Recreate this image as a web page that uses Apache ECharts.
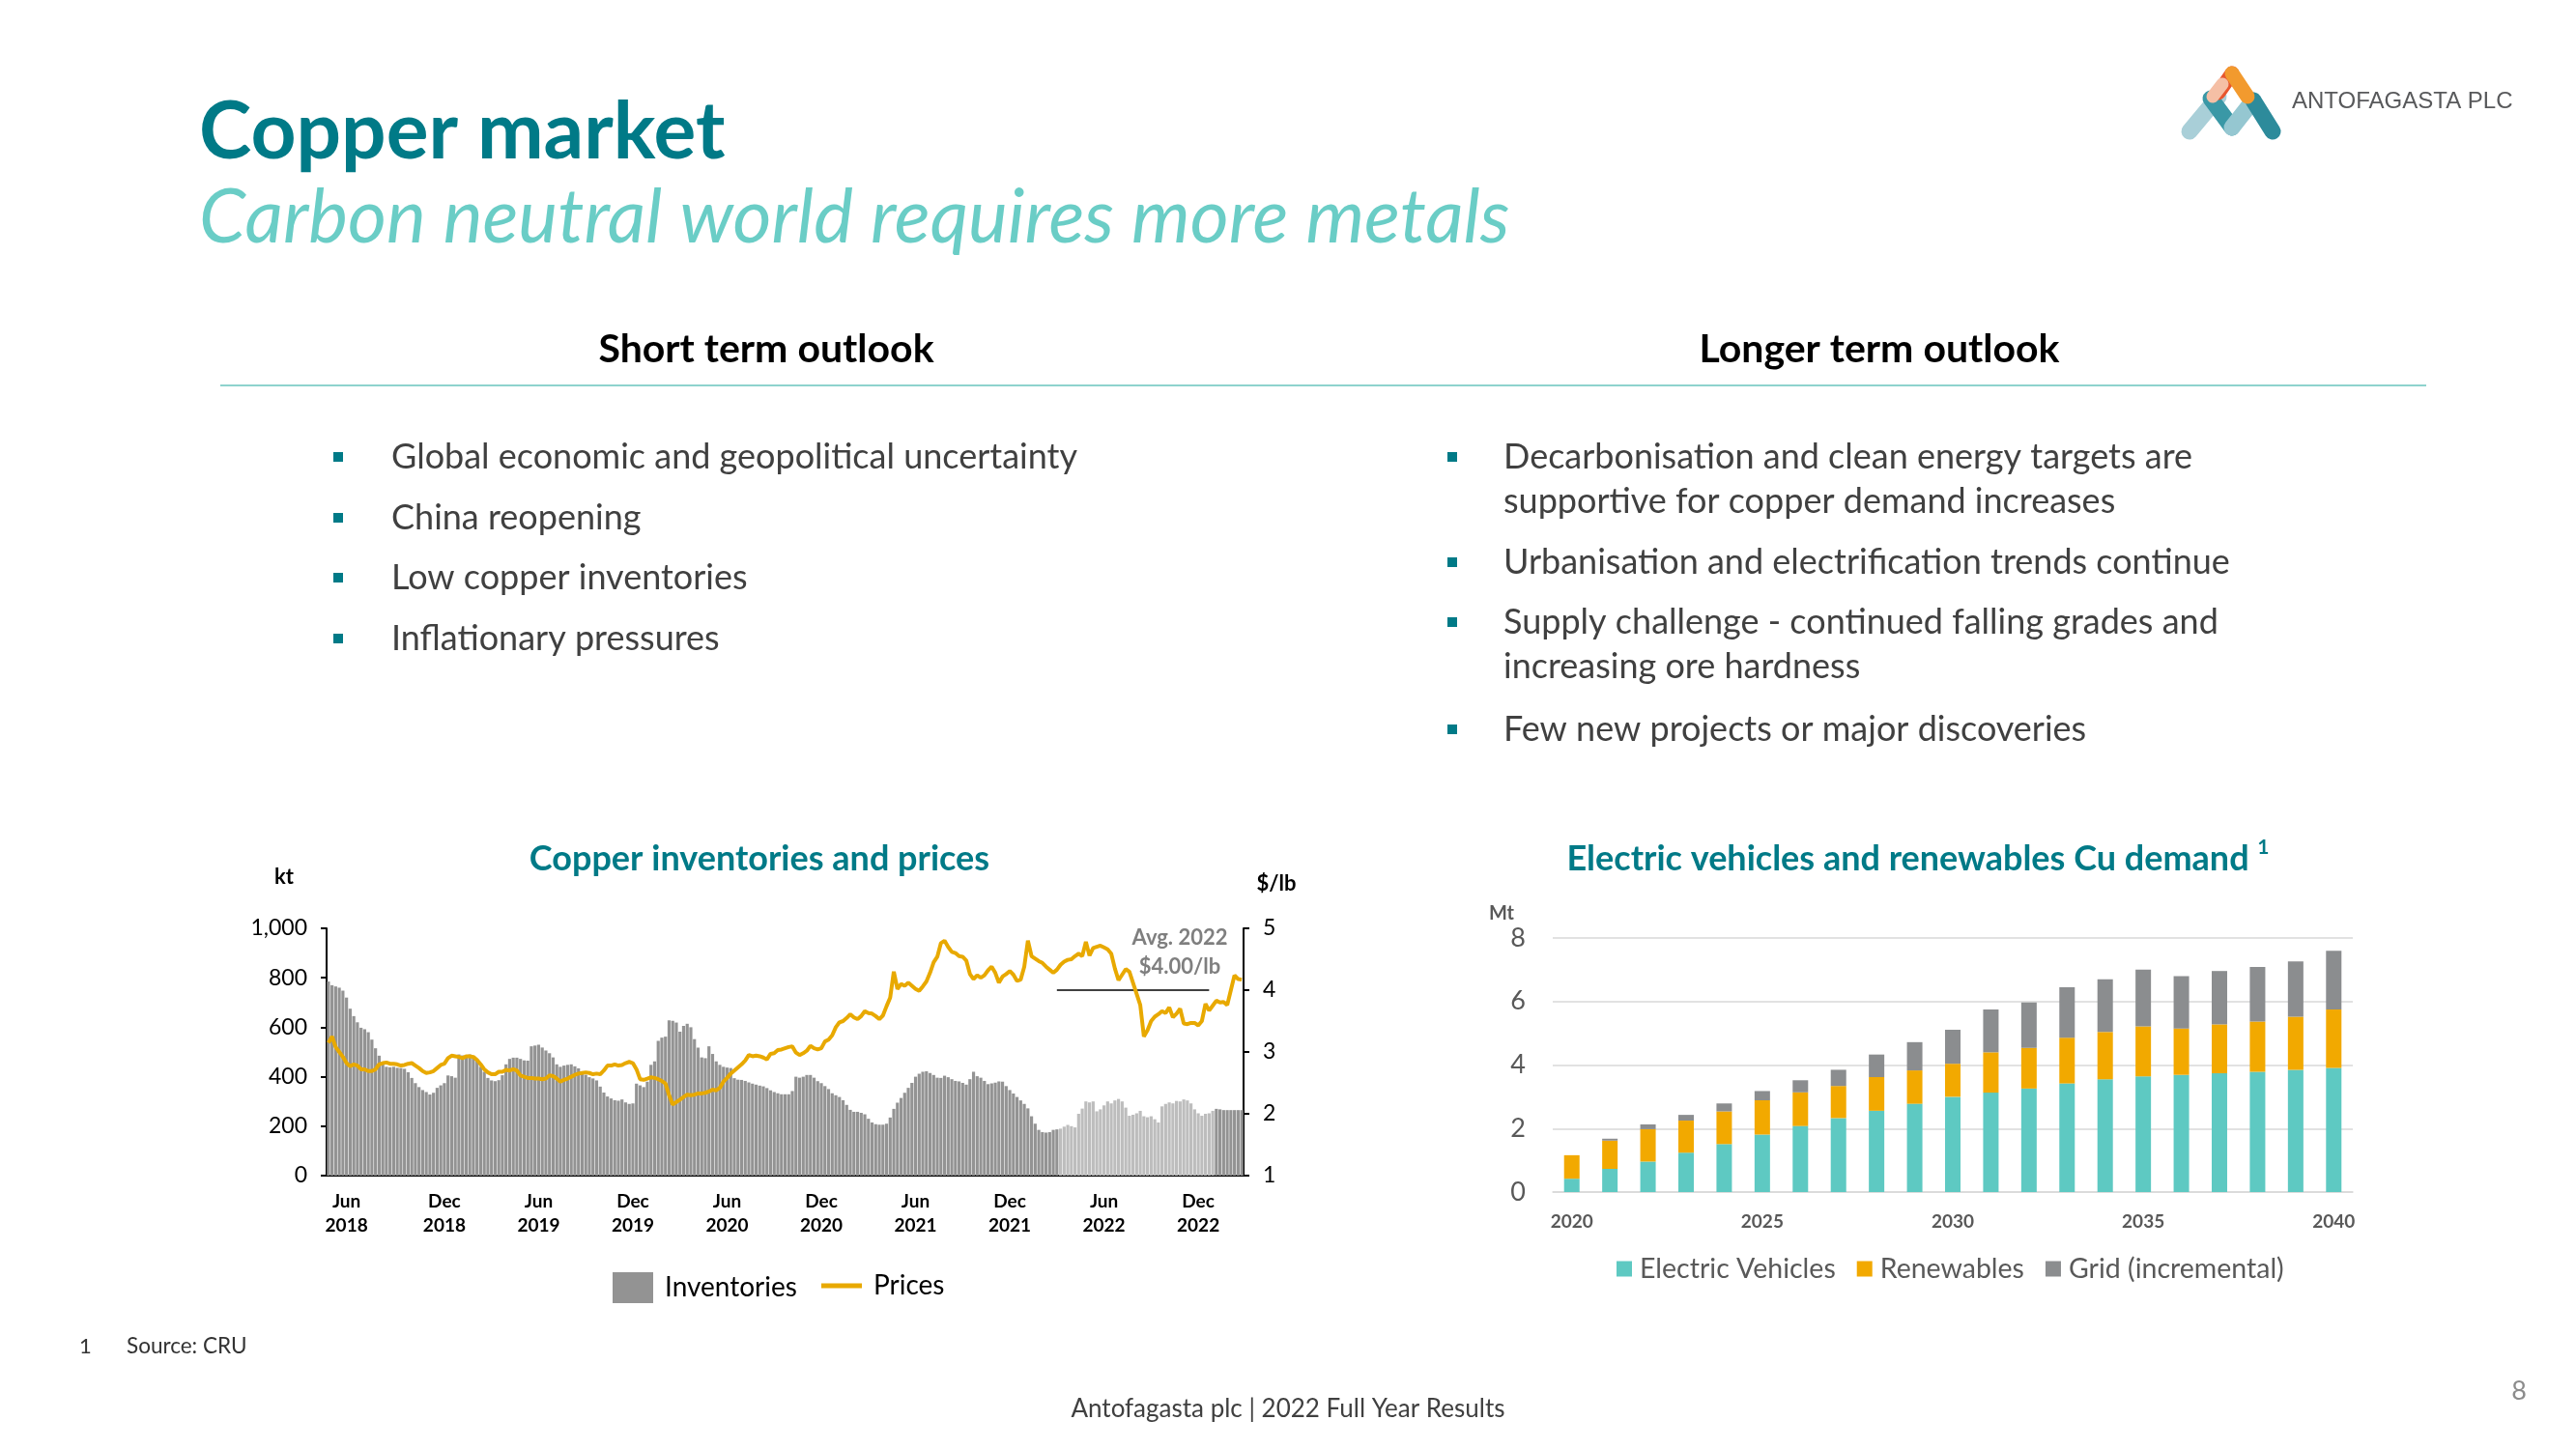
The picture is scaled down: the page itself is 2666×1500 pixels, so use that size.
<!DOCTYPE html>
<html><head><meta charset="utf-8">
<script src="https://cdn.jsdelivr.net/npm/echarts@6.0.0/dist/echarts.min.js"></script>
<style>html,body{margin:0;padding:0;background:#fff}#c{width:2666px;height:1500px}</style>
</head><body><div id="c"></div><script>
// ---------- DATA ----------
const weekStart = '2018-04-27'; // first weekly observation
const inventories = [
785,770,765,760,748,720,675,645,620,598,
592,580,550,515,485,450,440,438,440,436,
435,432,418,395,374,358,346,338,328,335,
355,365,374,405,402,396,490,486,484,490,
480,470,440,420,395,385,382,386,406,450,
472,477,477,472,466,465,523,526,529,518,
506,495,478,450,440,445,448,450,442,434,
422,408,398,393,385,360,336,320,312,305,
303,308,296,290,292,372,365,358,380,448,
462,545,558,562,628,626,619,582,605,614,
600,552,518,478,475,523,492,462,448,440,
437,435,394,388,387,383,377,372,368,364,
361,354,345,338,333,329,329,329,342,400,
396,400,407,407,396,382,374,362,350,333,
325,318,305,286,266,258,258,254,248,230,
215,208,206,206,210,235,270,295,314,335,
355,375,400,412,420,422,415,407,396,395,
404,398,390,383,381,375,368,390,420,402,
396,383,370,373,376,381,380,362,346,332,
318,304,290,272,240,210,185,176,174,176,
185,187,190,198,205,200,195,250,271,300,
296,300,260,268,284,300,292,304,310,300,
275,242,246,252,262,240,236,240,228,215,
280,290,296,292,302,300,308,304,292,268,
252,242,250,252,262,270,268,265,265,265,
265,265,265
];
const prices = [
3.15,3.25,3.08,3.00,2.92,2.82,2.77,2.80,2.78,2.72,
2.72,2.69,2.69,2.72,2.80,2.82,2.83,2.81,2.81,2.80,
2.78,2.79,2.81,2.82,2.78,2.74,2.69,2.66,2.67,2.69,
2.74,2.79,2.81,2.90,2.94,2.93,2.92,2.90,2.93,2.93,
2.92,2.87,2.80,2.72,2.67,2.64,2.64,2.68,2.68,2.71,
2.70,2.72,2.70,2.62,2.60,2.58,2.58,2.57,2.57,2.56,
2.57,2.62,2.61,2.57,2.52,2.55,2.57,2.60,2.63,2.65,
2.66,2.67,2.66,2.64,2.65,2.64,2.70,2.78,2.78,2.80,
2.78,2.79,2.82,2.84,2.82,2.72,2.56,2.55,2.57,2.59,
2.58,2.56,2.53,2.49,2.30,2.15,2.19,2.23,2.27,2.31,
2.30,2.31,2.33,2.33,2.34,2.36,2.39,2.38,2.42,2.52,
2.58,2.65,2.70,2.75,2.80,2.86,2.95,2.93,2.94,2.93,
2.91,2.88,2.97,2.98,3.03,3.04,3.06,3.08,3.09,2.99,
2.95,2.98,3.02,3.10,3.06,3.04,3.06,3.17,3.20,3.27,
3.40,3.48,3.50,3.55,3.61,3.56,3.53,3.58,3.66,3.63,
3.62,3.58,3.53,3.59,3.74,3.88,4.30,4.02,4.10,4.07,
4.12,4.07,4.02,3.99,4.06,4.14,4.28,4.45,4.54,4.76,
4.80,4.70,4.62,4.60,4.55,4.54,4.48,4.26,4.18,4.24,
4.20,4.24,4.32,4.38,4.28,4.12,4.22,4.26,4.31,4.25,
4.15,4.17,4.38,4.80,4.55,4.51,4.47,4.44,4.38,4.33,
4.28,4.33,4.41,4.46,4.49,4.50,4.55,4.59,4.55,4.78,
4.56,4.68,4.70,4.72,4.69,4.66,4.59,4.35,4.16,4.25,
4.34,4.30,4.12,3.94,3.76,3.25,3.35,3.50,3.57,3.61,
3.66,3.63,3.72,3.56,3.62,3.70,3.46,3.45,3.47,3.47,
3.43,3.50,3.78,3.67,3.75,3.83,3.80,3.81,3.76,4.00,
4.24,4.18,4.17
];
const lightRange = [202, 244];        // weeks drawn in lighter grey
const avgRange = [201, 243];          // span of the 2022 average line
const avgPrice = 4.00;
const avgLabels = ['Avg. 2022', '$4.00/lb'];
const invTicks = [0, 1000, 200];
const priceTicks = [1, 5, 1];

const years = ['2020','2021','2022','2023','2024','2025','2026','2027','2028','2029','2030',
               '2031','2032','2033','2034','2035','2036','2037','2038','2039','2040'];
const evDemand    = [0.42,0.73,0.96,1.24,1.51,1.81,2.08,2.33,2.56,2.78,3.00,3.13,3.26,3.42,3.55,3.64,3.69,3.74,3.79,3.85,3.91];
const renewDemand = [0.74,0.89,1.02,1.01,1.03,1.08,1.06,1.01,1.06,1.05,1.04,1.27,1.28,1.44,1.49,1.58,1.46,1.54,1.58,1.67,1.84];
const gridDemand  = [0.00,0.06,0.15,0.18,0.25,0.29,0.38,0.51,0.71,0.89,1.07,1.35,1.43,1.59,1.66,1.78,1.65,1.68,1.72,1.74,1.85];
const demandTicks = [0, 8, 2];

const leftBullets = ['Global economic and geopolitical uncertainty','China reopening','Low copper inventories','Inflationary pressures'];
const rightLines = [
  ['Decarbonisation and clean energy targets are', true],
  ['supportive for copper demand increases', false],
  ['Urbanisation and electrification trends continue', true],
  ['Supply challenge - continued falling grades and', true],
  ['increasing ore hardness', false],
  ['Few new projects or major discoveries', true]
];

// ---------- BUILD ----------
const DAY = 86400000;
const t0 = Date.parse(weekStart + 'T00:00:00Z');
const dates = inventories.map((_, i) => new Date(t0 + i * 7 * DAY).toISOString().slice(0, 10));
const MONTHS = {6: 'Jun', 12: 'Dec'};
function isHalfYear(v) {
  const m = +v.slice(5, 7), d = +v.slice(8, 10);
  return (m === 6 || m === 12) && d <= 7;
}

const F = 'Lato';
const TEAL = '#007A87';
const g = [];
function txt(x, y, text, font, fill, align) {
  g.push({type: 'text', x: x, y: y, silent: true,
    style: {text: text, font: font, fill: fill, textAlign: align || 'left', textVerticalAlign: 'middle'}});
}
// header
txt(206, 138, 'Copper market', 'bold 82px ' + F, TEAL);
txt(206, 226, 'Carbon neutral world requires more metals', 'italic 77px ' + F, '#6ACDC6');
txt(793, 362, 'Short term outlook', 'bold 41px ' + F, '#000', 'center');
txt(1945, 362, 'Longer term outlook', 'bold 41px ' + F, '#000', 'center');
g.push({type: 'line', silent: true, shape: {x1: 228, y1: 399, x2: 2511, y2: 399}, style: {stroke: '#8ED3CD', lineWidth: 2}});
// bullets
const leftY = [473, 536, 598, 661];
leftBullets.forEach((t, i) => {
  g.push({type: 'rect', silent: true, shape: {x: 345, y: leftY[i] - 5, width: 10, height: 10}, style: {fill: TEAL}});
  txt(405, leftY[i], t, '36px ' + F, '#404040');
});
const rightY = [473, 519, 582, 644, 690, 755];
rightLines.forEach((l, i) => {
  if (l[1]) g.push({type: 'rect', silent: true, shape: {x: 1498, y: rightY[i] - 5, width: 10, height: 10}, style: {fill: TEAL}});
  txt(1556, rightY[i], l[0], '36px ' + F, '#404040');
});
// chart titles & units
txt(786, 889, 'Copper inventories and prices', 'bold 36px ' + F, TEAL, 'center');
g.push({type: 'text', x: 1985, y: 889, silent: true, style: {
  text: '{a|Electric vehicles and renewables Cu demand }{b|1}', textAlign: 'center', textVerticalAlign: 'middle',
  rich: {a: {fontSize: 36, fontWeight: 'bold', fontFamily: F, fill: TEAL, lineHeight: 44},
         b: {fontSize: 21, fontWeight: 'bold', fontFamily: F, fill: TEAL, verticalAlign: 'top', lineHeight: 24}}}});
txt(294, 908, 'kt', 'bold 22px ' + F, '#000', 'center');
txt(1321, 915, '$/lb', 'bold 22px ' + F, '#000', 'center');
txt(1554, 946, 'Mt', 'bold 20px ' + F, '#595959', 'center');
txt(1221, 971, avgLabels[0], 'bold 22px ' + F, '#7F7F7F', 'center');
txt(1221, 1001, avgLabels[1], 'bold 22px ' + F, '#7F7F7F', 'center');
// footer
txt(82, 1394, '1', '22px ' + F, '#333');
txt(131, 1394, 'Source: CRU', '22.5px ' + F, '#333');
txt(1333, 1459, 'Antofagasta plc | 2022 Full Year Results', '26px ' + F, '#404040', 'center');
txt(2607, 1440, '8', '27px ' + F, '#8C8C8C', 'center');
// logo
function stroke(pts, color, w) {
  g.push({type: 'polyline', silent: true, shape: {points: pts}, style: {stroke: color, lineWidth: w, fill: null, lineCap: 'round', lineJoin: 'round'}});
}
stroke([[2266, 136], [2296, 100]], '#A9CFD8', 17);
stroke([[2288, 102], [2310, 132]], '#3A98A6', 17);
stroke([[2310, 132], [2332, 104]], '#95C7D1', 17);
stroke([[2332, 104], [2352, 136]], '#2D8B9B', 17);
stroke([[2296, 96], [2310, 76]], '#E8562E', 15);
stroke([[2310, 76], [2326, 100]], '#F29A2E', 15);
stroke([[2290, 100], [2300, 87]], '#F5BFA5', 13);
txt(2372, 105, 'ANTOFAGASTA PLC', '24px "Liberation Sans"', '#58595B');

const option = {
  animation: false,
  textStyle: {fontFamily: F},
  grid: [
    {left: 338, top: 961, width: 949, height: 256, outerBoundsMode: 'none'},
    {left: 1607, top: 971, width: 828, height: 263, outerBoundsMode: 'none'}
  ],
  xAxis: [
    {type: 'category', gridIndex: 0, data: dates, boundaryGap: true,
     axisLine: {show: true, onZero: false, lineStyle: {color: '#000', width: 2}},
     axisTick: {show: false}, splitLine: {show: false},
     axisLabel: {interval: (i, v) => isHalfYear(v), formatter: v => MONTHS[+v.slice(5, 7)] + '\n' + v.slice(0, 4),
                 fontWeight: 'bold', fontSize: 19, color: '#000', lineHeight: 25, margin: 14}},
    {type: 'category', gridIndex: 1, data: years, boundaryGap: true,
     axisLine: {show: true, lineStyle: {color: '#D9D9D9', width: 1.5}},
     axisTick: {show: false}, splitLine: {show: false},
     axisLabel: {interval: 4, fontWeight: 'bold', fontSize: 19, color: '#595959', margin: 21}}
  ],
  yAxis: [
    {type: 'value', gridIndex: 0, position: 'left', min: invTicks[0], max: invTicks[1], interval: invTicks[2],
     axisLine: {show: true, lineStyle: {color: '#000', width: 2}},
     axisTick: {show: true, length: 6, lineStyle: {color: '#000', width: 2}}, splitLine: {show: false},
     axisLabel: {fontSize: 23, color: '#000', margin: 20, formatter: v => v.toLocaleString('en-US')}},
    {type: 'value', gridIndex: 0, position: 'right', min: priceTicks[0], max: priceTicks[1], interval: priceTicks[2],
     axisLine: {show: true, lineStyle: {color: '#000', width: 2}},
     axisTick: {show: true, length: 6, lineStyle: {color: '#000', width: 2}}, splitLine: {show: false},
     axisLabel: {fontSize: 23, color: '#000', margin: 20}},
    {type: 'value', gridIndex: 1, min: demandTicks[0], max: demandTicks[1], interval: demandTicks[2],
     axisLine: {show: false}, axisTick: {show: false},
     splitLine: {show: true, lineStyle: {color: '#D9D9D9', width: 1.5}},
     axisLabel: {fontSize: 27, color: '#595959', margin: 28}}
  ],
  legend: [
    {data: ['Inventories'], left: 629, top: 1312, icon: 'rect', itemWidth: 42, itemHeight: 32, selectedMode: false,
     textStyle: {fontSize: 28, fontFamily: F, color: '#000', padding: [0, 0, 0, 7]}},
    {data: ['Prices'], left: 845, top: 1312, icon: 'rect', itemWidth: 42, itemHeight: 5, selectedMode: false,
     textStyle: {fontSize: 28, fontFamily: F, color: '#000', padding: [0, 0, 0, 7]}},
    {data: ['Electric Vehicles', 'Renewables', 'Grid (incremental)'], left: 1668, top: 1294, icon: 'rect',
     itemWidth: 16, itemHeight: 16, itemGap: 22, selectedMode: false,
     textStyle: {fontSize: 28.5, fontFamily: F, color: '#595959', padding: [0, 0, 0, 3]}}
  ],
  series: [
    {name: 'Inventories', type: 'bar', xAxisIndex: 0, yAxisIndex: 0, barWidth: '85%', color: '#939393',
     itemStyle: {color: '#939393'},
     data: inventories.map((v, i) => (i >= lightRange[0] && i <= lightRange[1]) ? {value: v, itemStyle: {color: '#BDBDBD'}} : v),
     emphasis: {disabled: true}},
    {name: 'Prices', type: 'line', xAxisIndex: 0, yAxisIndex: 1, data: prices, symbol: 'none', showSymbol: false,
     color: '#E8A900', lineStyle: {color: '#E8A900', width: 4}, z: 5, emphasis: {disabled: true},
     markLine: {silent: true, symbol: ['none', 'none'], label: {show: false},
       lineStyle: {color: '#000', width: 1.5, type: 'solid'},
       data: [[{coord: [dates[avgRange[0]], avgPrice]}, {coord: [dates[avgRange[1]], avgPrice]}]]}},
    {name: 'Electric Vehicles', type: 'bar', stack: 'd', xAxisIndex: 1, yAxisIndex: 2, barWidth: 16,
     color: '#5EC9C2', data: evDemand, emphasis: {disabled: true}},
    {name: 'Renewables', type: 'bar', stack: 'd', xAxisIndex: 1, yAxisIndex: 2, barWidth: 16,
     color: '#F2A900', data: renewDemand, emphasis: {disabled: true}},
    {name: 'Grid (incremental)', type: 'bar', stack: 'd', xAxisIndex: 1, yAxisIndex: 2, barWidth: 16,
     color: '#8B8D8F', data: gridDemand, emphasis: {disabled: true}}
  ],
  graphic: {elements: g}
};
const chart = echarts.init(document.getElementById('c'), null, {renderer: 'canvas'});
chart.setOption(option);
</script></body></html>
